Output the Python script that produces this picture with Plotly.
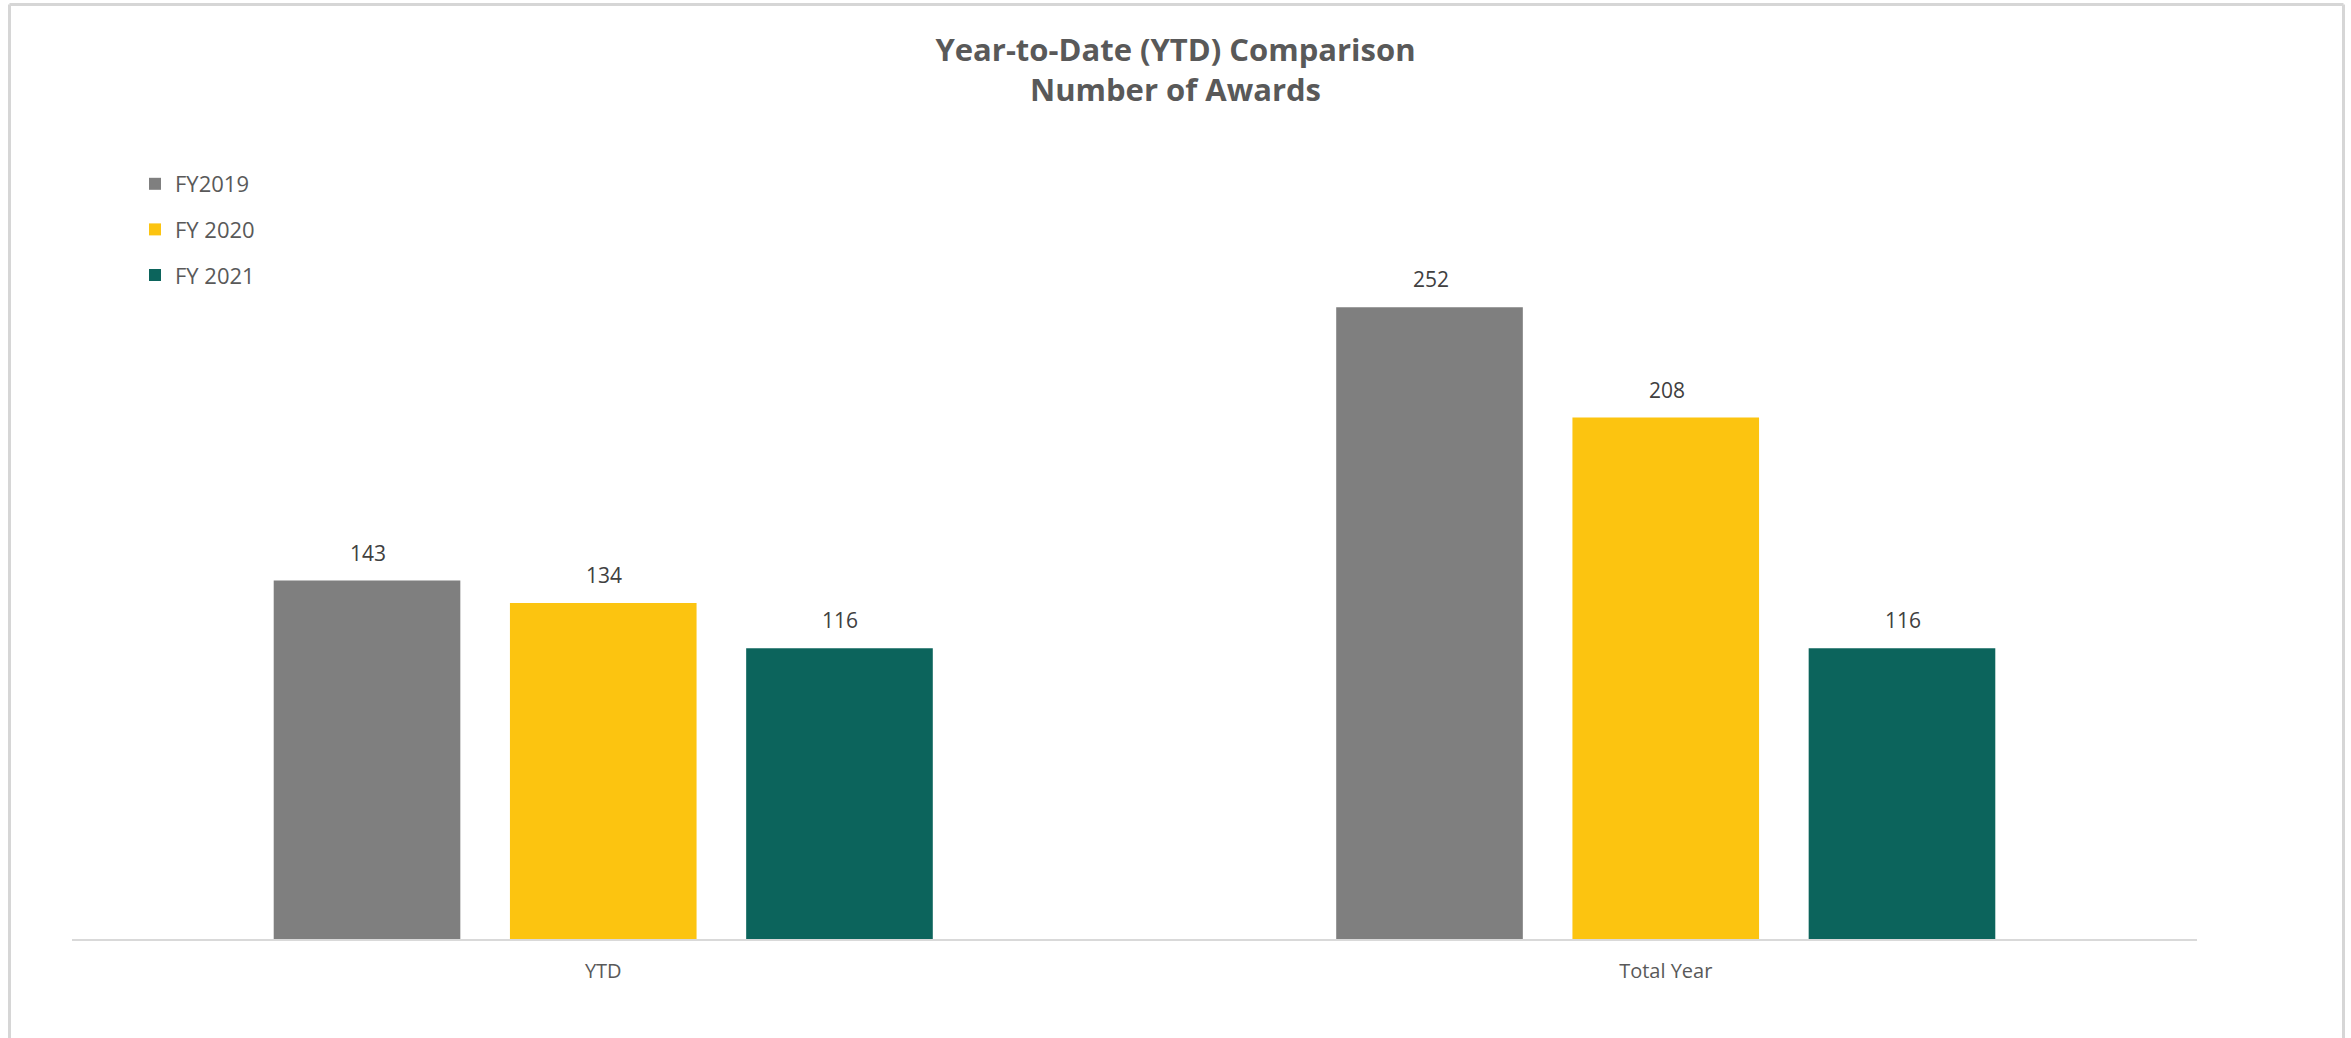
import plotly.graph_objects as go

# Award counts by period and fiscal year
categories = ["YTD", "Total Year"]
series_names = ["FY2019", "FY 2020", "FY 2021"]
fy2019 = [143, 252]
fy2020 = [134, 208]
fy2021 = [116, 116]
series_values = [fy2019, fy2020, fy2021]
series_colors = ["#7f7f7f", "#fcc410", "#0c645c"]

W, H = 2351, 1038
plot_left, plot_right = 72, 2197
plot_top, plot_bottom = 187, 939
slot_px = 236  # centre-to-centre distance between bars in a group

fig = go.Figure()
for name, vals, col in zip(series_names, series_values, series_colors):
    fig.add_trace(go.Bar(
        x=categories,
        y=vals,
        name=name,
        legendgroup=name,
        marker=dict(color=col, line=dict(width=0)),
        hoverinfo="x+y+name",
    ))

# Value labels sitting above each bar
annotations = []
for i, vals in enumerate(series_values):
    for cat, v in zip(categories, vals):
        annotations.append(dict(
            x=cat, y=v, xref="x", yref="y",
            text=str(v),
            showarrow=False,
            xanchor="center", yanchor="bottom",
            xshift=(i - 1) * slot_px + 1,
            yshift=12,
            font=dict(family="Open Sans", size=21, color="#404040"),
        ))


def px_to_paper_x(px):
    return (px - plot_left) / (plot_right - plot_left)


def px_to_paper_y(py):
    return (plot_bottom - py) / (plot_bottom - plot_top)


# Light frame on the top, left and right edges
frame = dict(color="#d6d6d6", width=3)
xl, xr = px_to_paper_x(9.5), px_to_paper_x(2343.5)
yt, yb = px_to_paper_y(4.5), px_to_paper_y(1040)
shapes = [
    dict(type="line", xref="paper", yref="paper", x0=xl, x1=xr, y0=yt, y1=yt, line=frame),
    dict(type="line", xref="paper", yref="paper", x0=xl, x1=xl, y0=yb, y1=yt, line=frame),
    dict(type="line", xref="paper", yref="paper", x0=xr, x1=xr, y0=yb, y1=yt, line=frame),
]

fig.update_layout(
    width=W,
    height=H,
    margin=dict(l=plot_left, r=W - plot_right, t=plot_top, b=H - plot_bottom, pad=0),
    paper_bgcolor="white",
    plot_bgcolor="white",
    barmode="group",
    bargap=0.333,
    bargroupgap=0.21,
    title=dict(
        text="<b>Year-to-Date (YTD) Comparison<br>Number of Awards</b>",
        x=0.5,
        xanchor="center",
        xref="container",
        yref="container",
        y=1 - 61 / H,
        yanchor="middle",
        font=dict(family="Open Sans", size=31, color="#595959"),
    ),
    showlegend=True,
    legend=dict(
        x=px_to_paper_x(135),
        y=px_to_paper_y(163),
        xanchor="left",
        yanchor="top",
        font=dict(family="Open Sans", size=22, color="#595959"),
        tracegroupgap=14,
        bgcolor="rgba(0,0,0,0)",
        itemclick=False,
    ),
    xaxis=dict(
        showgrid=False,
        showline=True,
        linecolor="#d9d9d9",
        linewidth=2,
        ticks="",
        ticklabelstandoff=13,
        tickfont=dict(family="Open Sans", size=20, color="#595959"),
        zeroline=False,
    ),
    yaxis=dict(
        range=[0, 300],
        visible=False,
        showgrid=False,
        zeroline=False,
    ),
    annotations=annotations,
    shapes=shapes,
)

fig.write_html("out.html")
